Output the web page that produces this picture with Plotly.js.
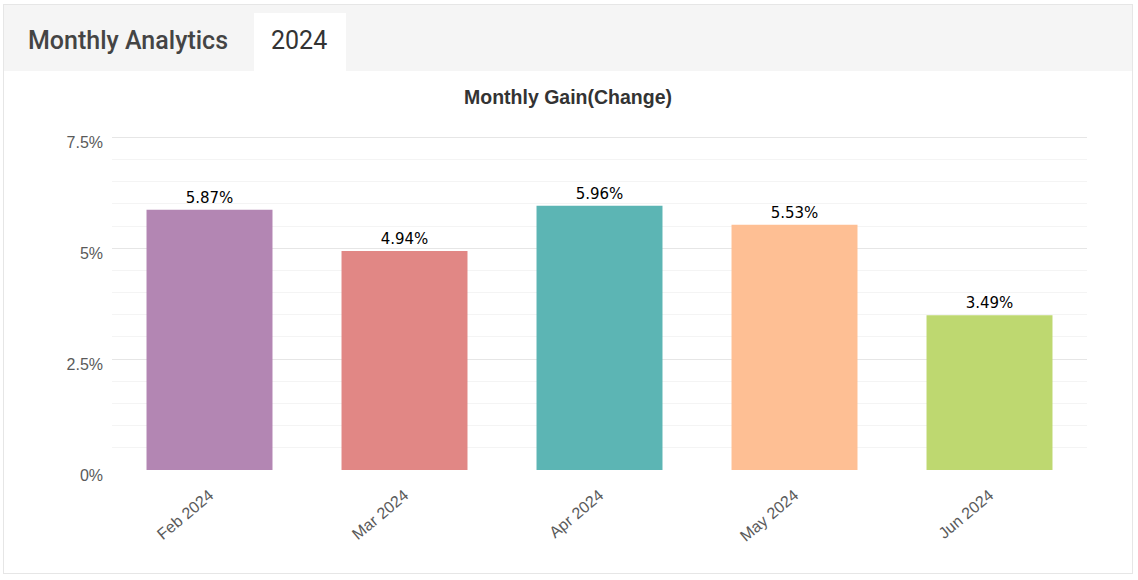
<!DOCTYPE html>
<html>
<head>
<meta charset="utf-8">
<script src="https://cdn.plot.ly/plotly-3.0.1.min.js"></script>
<style>
  html, body { margin: 0; padding: 0; background: #ffffff; width: 1138px; height: 580px; overflow: hidden; }
  #frame { position: absolute; left: 3px; top: 4px; width: 1128px; height: 568px; border: 1px solid #e6e6e6; background: #fff; }
  #header { position: absolute; left: 0; top: 0; width: 1128px; height: 66px; background: #f5f5f5; }
  #title1 { position: absolute; left: 24px; top: 21px; font-family: Roboto, "Noto Sans", sans-serif; font-weight: 500; font-size: 25px; color: #444; }
  #tab { position: absolute; left: 250px; top: 8px; width: 92px; height: 58px; background: #fff; }
  #tab span { position: absolute; left: 17px; top: 13px; font-family: Roboto, "Noto Sans", sans-serif; font-size: 25px; color: #333; }
  #chart { position: absolute; left: 4px; top: 71px; width: 1128px; height: 500px; }
</style>
</head>
<body>
<div id="frame">
  <div id="header">
    <div id="title1">Monthly Analytics</div>
    <div id="tab"><span>2024</span></div>
  </div>
</div>
<div id="chart"></div>
<script>
const months = ["Feb 2024", "Mar 2024", "Apr 2024", "May 2024", "Jun 2024"];
const gains = [5.87, 4.94, 5.96, 5.53, 3.49];
const barColors = ["#b386b3", "#e18785", "#5cb5b4", "#febf94", "#bed870"];
const yTickVals = [0, 2.5, 5, 7.5];
const yTickText = ["0%", "2.5%", "5%", "7.5%"];

const trace = {
  type: "bar",
  x: months,
  y: gains,
  marker: { color: barColors },
  texttemplate: "%{y:.2f}%",
  textposition: "outside",
  cliponaxis: false,
  textfont: { family: "DejaVu Sans", size: 15, color: "#000" },
  hoverinfo: "x+y"
};

const layout = {
  width: 1128,
  height: 500,
  margin: { l: 108, r: 45, t: 62, b: 101 },
  paper_bgcolor: "rgba(0,0,0,0)",
  plot_bgcolor: "rgba(0,0,0,0)",
  bargap: 0.354,
  showlegend: false,
  title: {
    text: "<b>Monthly Gain(Change)</b>",
    x: 0.5, xref: "container",
    y: 0.948, yref: "container", yanchor: "middle",
    font: { family: "Liberation Sans, Arial", size: 19.5, color: "#333" }
  },
  xaxis: {
    type: "category",
    tickangle: -40,
    tickfont: { family: "Liberation Sans, Arial", size: 16, color: "#5a5a5a" },
    ticklabelstandoff: 12,
    showgrid: false,
    zeroline: false,
    showline: false,
    ticks: ""
  },
  yaxis: {
    range: [0, 7.6],
    tickvals: yTickVals,
    ticktext: yTickText,
    tickfont: { family: "Liberation Sans, Arial", size: 16, color: "#5a5a5a" },
    ticklabelstandoff: 8,
    ticklabelshift: 5,
    gridcolor: "#e6e6e6",
    gridwidth: 1,
    zeroline: false,
    showline: false,
    ticks: "",
    minor: { tickvals: [0.5, 1, 1.5, 2, 3, 3.5, 4, 4.5, 5.5, 6, 6.5, 7], showgrid: true, gridcolor: "#f4f4f4", gridwidth: 1 }
  }
};

Plotly.newPlot("chart", [trace], layout, { displayModeBar: false, staticPlot: true });
</script>
</body>
</html>
